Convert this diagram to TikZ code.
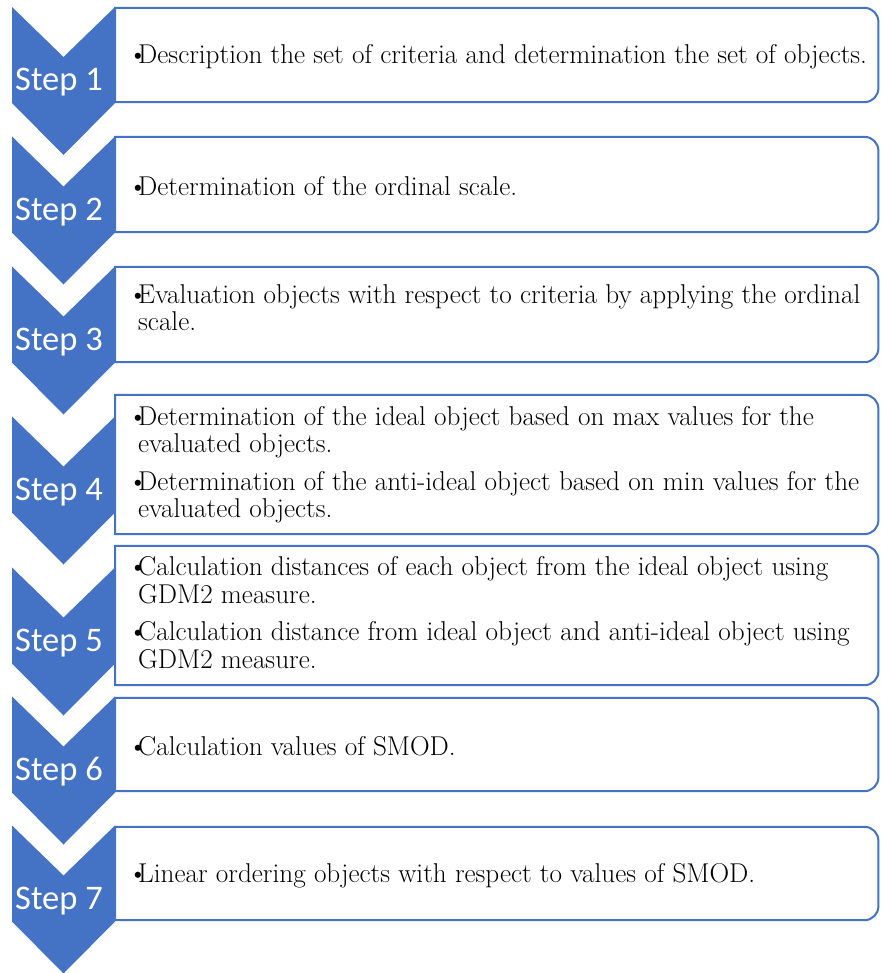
\documentclass[tikz,border=0pt]{standalone}
\usepackage{fontspec}
\usepackage{xcolor}
\usepackage{tikz}
\usetikzlibrary{positioning}
\newfontfamily\stepfont{Carlito}
\definecolor{stepblue}{HTML}{4472C4}
\newcommand{\itm}{\makebox[10pt][l]{\textbullet}}
\newcommand{\cont}{\hspace*{10pt}}

\begin{document}
\begin{tikzpicture}[x=1pt, y=-1pt,
        chevron/.style={fill=stepblue},
        steplabel/.style={font=\stepfont\fontsize{34.5}{40}\selectfont, text=white, anchor=base, inner sep=0pt},
        panel/.style={rectangle, anchor=west, minimum width=763pt, inner sep=0pt},
        itemtext/.style={inner sep=0pt, align=left, font=\fontsize{27.2}{27.5}\selectfont},
        panelline/.style={draw=stepblue, line width=2pt}
    ]
        \useasboundingbox (0,0) rectangle (880,973);
        \foreach \i/\c in {1/55, 2/184.5, 3/314.5, 4/464.5, 5/615.5, 6/744.5, 7/873.5} {
            \fill[chevron] (12,\c-48) -- (63.5,\c+2) -- (115,\c-48) -- (115,\c+48) -- (63.5,\c+100) -- (12,\c+48) -- cycle;
            \node[steplabel] (step\i) at (59,\c+36) {Step \i};
        }
        \node[panel, minimum height=94pt] (box1) at (115,55) {};
        \node[panel, minimum height=95pt] (box2) at (115,184.5) {};
        \node[panel, minimum height=95pt] (box3) at (115,314.5) {};
        \node[panel, minimum height=139pt] (box4) at (115,464.5) {};
        \node[panel, minimum height=139pt] (box5) at (115,615.5) {};
        \node[panel, minimum height=93pt] (box6) at (115,744.5) {};
        \node[panel, minimum height=93pt] (box7) at (115,873.5) {};
        \foreach \i in {1,...,7} {
            \draw[panelline] (box\i.north) -- (box\i.north west) -- (box\i.south west) -- (box\i.south) [rounded corners=14pt] -- (box\i.south east) -- (box\i.north east) -- cycle;
        }
        \node[itemtext, right=13pt of box1.west, yshift=-2pt] (txt1) {\itm Description the set of criteria and determination the set of objects.};
        \node[itemtext, right=13pt of box2.west, yshift=-2pt] (txt2) {\itm Determination of the ordinal scale.};
        \node[itemtext, right=13pt of box3.west, yshift=7pt] (txt3) {\itm Evaluation objects with respect to criteria by applying the ordinal\\ \cont scale.};
        \node[itemtext, right=13pt of box4.west] (txt4) {\itm Determination of the ideal object based on max values for the\\ \cont evaluated objects.\\[10pt] \itm Determination of the anti-ideal object based on min values for the\\ \cont evaluated objects.};
        \node[itemtext, right=13pt of box5.west, yshift=3pt] (txt5) {\itm Calculation distances of each object from the ideal object using\\ \cont GDM2 measure.\\[10pt] \itm Calculation distance from ideal object and anti-ideal object using\\ \cont GDM2 measure.};
        \node[itemtext, right=13pt of box6.west, yshift=-2pt] (txt6) {\itm Calculation values of SMOD.};
        \node[itemtext, right=13pt of box7.west, yshift=-2pt] (txt7) {\itm Linear ordering objects with respect to values of SMOD.};
    \end{tikzpicture}
\end{document}
